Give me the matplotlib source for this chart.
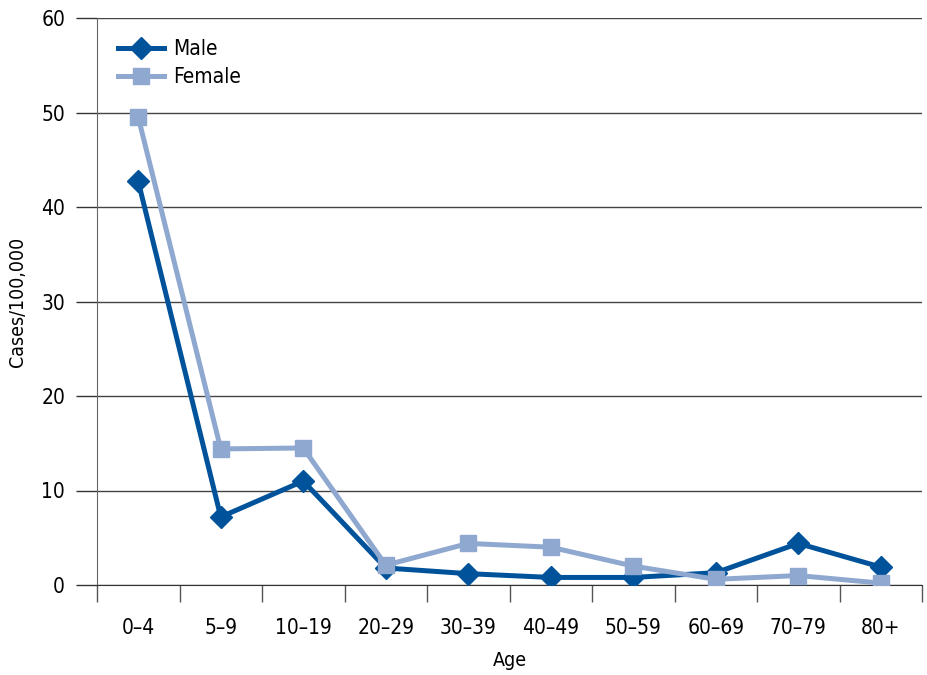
import matplotlib
matplotlib.use("Agg")
import matplotlib.pyplot as plt
import numpy as np

categories = ["0\u20134", "5\u20139", "10\u201319", "20\u201329", "30\u201339", "40\u201349",
              "50\u201359", "60\u201369", "70\u201379", "80+"]
male = [42.7, 7.2, 11.0, 1.8, 1.2, 0.8, 0.8, 1.3, 4.4, 1.9]
female = [49.5, 14.4, 14.5, 2.1, 4.4, 4.0, 2.0, 0.6, 1.0, 0.2]
yticks = [0, 10, 20, 30, 40, 50, 60]

plt.rcParams['font.family'] = ['DejaVu Sans']
plt.rcParams['font.stretch'] = 'condensed'

fig = plt.figure(figsize=(9.28, 6.75), dpi=100)
ax = fig.add_axes([97/928, 1-585/675, 825/928, (585-18)/675])

x = np.arange(len(categories))
male_c = "#00539b"
female_c = "#8ea8d0"

ax.plot(x, male, color=male_c, lw=3.6, marker="D", markersize=11.5,
        label="Male", zorder=3)
ax.plot(x, female, color=female_c, lw=3.6, marker="s", markersize=11,
        label="Female", zorder=4)

ax.set_xlim(-0.5, len(categories) - 0.5)
ax.set_ylim(0, 60)
ax.set_yticks(yticks)
ax.set_yticklabels([str(v) for v in yticks], fontsize=15)

ax.set_xticks(x)
ax.set_xticklabels(categories, fontsize=15)
ax.tick_params(axis='x', which='major', length=0, pad=24)
ax.set_xticks(np.arange(-0.5, len(categories), 1), minor=True)
ax.tick_params(axis='x', which='minor', length=12, width=1, color="#555555", direction='out')
ax.tick_params(axis='y', length=15, width=1, color="#333333", pad=8)

ax.grid(axis='y', color="#444444", lw=1)
ax.set_axisbelow(True)
for s in ["top", "right"]:
    ax.spines[s].set_visible(False)
ax.spines["left"].set_color("#666666")
ax.spines["bottom"].set_color("#333333")

ax.set_xlabel("Age", fontsize=14, labelpad=9)
ax.set_ylabel("Cases/100,000", fontsize=14, labelpad=10)

ax.legend(loc="upper left", frameon=False, fontsize=15,
          bbox_to_anchor=(0.0, 1.0), handlelength=2.2, labelspacing=0.4,
          handletextpad=0.45, borderaxespad=0.6)

fig.savefig("out.png", dpi=100)
